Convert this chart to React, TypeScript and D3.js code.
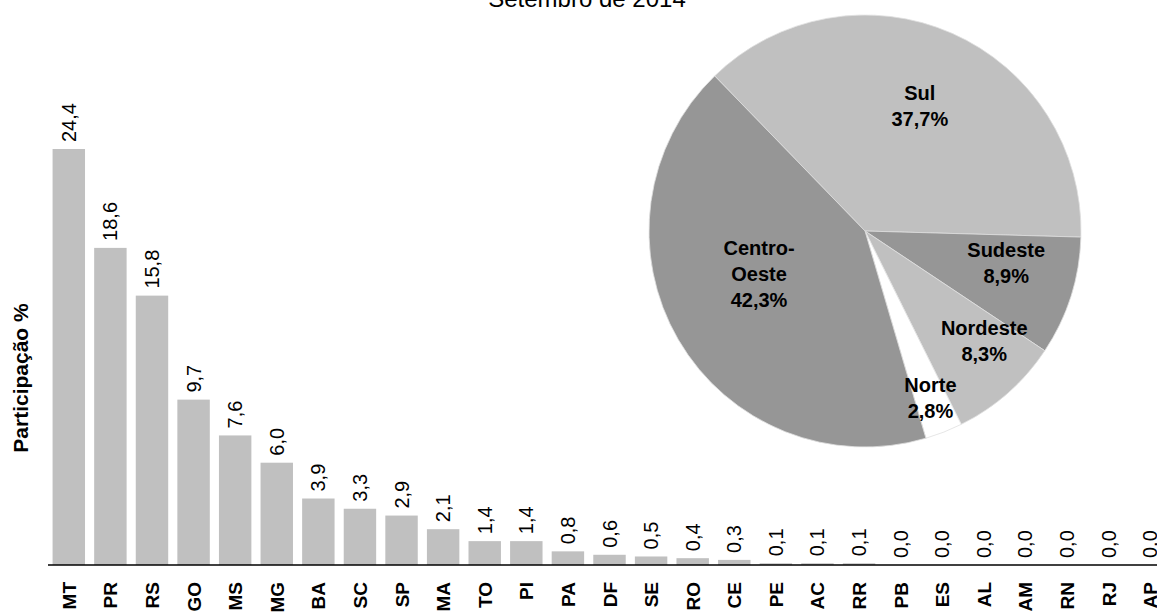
import React from "react";
import * as d3 from "d3";

const states = ["MT","PR","RS","GO","MS","MG","BA","SC","SP","MA","TO","PI","PA","DF","SE","RO","CE","PE","AC","RR","PB","ES","AL","AM","RN","RJ","AP"];
const shares = [24.4,18.6,15.8,9.7,7.6,6.0,3.9,3.3,2.9,2.1,1.4,1.4,0.8,0.6,0.5,0.4,0.3,0.1,0.1,0.1,0.0,0.0,0.0,0.0,0.0,0.0,0.0];

const regions = ["Sul","Sudeste","Nordeste","Norte","Centro-Oeste"];
const regionLines = [["Sul"],["Sudeste"],["Nordeste"],["Norte"],["Centro-","Oeste"]];
const regionShares = [37.7,8.9,8.3,2.8,42.3];
const regionColors = ["#c0c0c0","#969696","#c0c0c0","#ffffff","#969696"];
// label placement: radius factor and angle shift (degrees) relative to slice middle
const labelRadius = [0.63,0.67,0.75,0.83,0.53];
const labelShift = [0,-5,-6,0,8];

const W = 1157, H = 613;
const fmt = (v: number) => v.toFixed(1).replace(".", ",");

export default function App() {
  const x = d3.scaleBand<string>().domain(states).range([48, 1171]).paddingInner(0.22).paddingOuter(0.11);
  const y = d3.scaleLinear().domain([0, 24.4]).range([565, 149]);

  const cx = 865, cy = 231, R = 216;
  const startA = -44.1 * Math.PI / 180;
  const pie = d3.pie<number>().sort(null).value(d => d).startAngle(startA).endAngle(startA + 2 * Math.PI);
  const arcs = pie(regionShares);
  const arc = d3.arc<d3.PieArcDatum<number>>().innerRadius(0).outerRadius(R);

  const font = "'Liberation Sans', Arial, sans-serif";

  return (
    <svg width={W} height={H} style={{ position: "absolute", left: 0, top: 0 }} fontFamily={font}>
      <rect width={W} height={H} fill="#fff" />
      <text x={587} y={7} textAnchor="middle" fontSize={24} fill="#000">Setembro de 2014</text>

      {/* bars */}
      {states.map((s, i) => (
        <g key={s}>
          <rect x={x(s)} y={y(shares[i])} width={x.bandwidth()} height={565 - y(shares[i])} fill="#c0c0c0" />
          <text transform={`translate(${(x(s) as number) + x.bandwidth() / 2 + 7},${y(shares[i]) - 7}) rotate(-90)`}
            fontSize={20} fill="#000">{fmt(shares[i])}</text>
          <text transform={`translate(${(x(s) as number) + x.bandwidth() / 2 + 7},582) rotate(-90)`}
            textAnchor="end" fontSize={19} fontWeight="bold" fill="#000">{s}</text>
        </g>
      ))}
      <line x1={48} x2={1171} y1={565} y2={565} stroke="#000" strokeWidth={1.5} />
      <text transform="translate(28,378) rotate(-90)" textAnchor="middle" fontSize={21} fontWeight="bold" fill="#000">Participação %</text>

      {/* pie */}
      <g transform={`translate(${cx},${cy})`}>
        {arcs.map((a, i) => (
          <path key={regions[i]} d={arc(a) as string} fill={regionColors[i]} stroke="#e0e0e0" strokeWidth={0.8} />
        ))}
        {arcs.map((a, i) => {
          const mid = (a.startAngle + a.endAngle) / 2 + labelShift[i] * Math.PI / 180;
          const r = R * labelRadius[i];
          const lx = Math.sin(mid) * r, ly = -Math.cos(mid) * r;
          const lines = [...regionLines[i], fmt(regionShares[i]) + "%"];
          const lh = 26;
          const top = ly - ((lines.length - 1) * lh) / 2;
          return (
            <text key={"l" + i} textAnchor="middle" fontSize={20} fontWeight="bold" fill="#000">
              {lines.map((t, j) => (
                <tspan key={j} x={lx} y={top + j * lh + 7}>{t}</tspan>
              ))}
            </text>
          );
        })}
      </g>
    </svg>
  );
}
